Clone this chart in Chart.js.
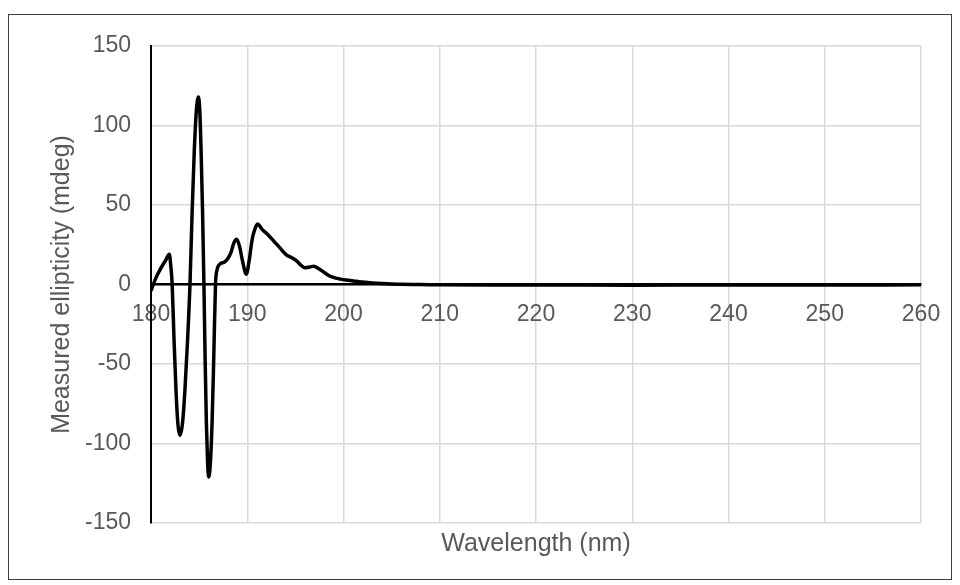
<!DOCTYPE html>
<html>
<head>
<meta charset="utf-8">
<script src="https://cdn.jsdelivr.net/npm/chart.js@4/dist/chart.umd.min.js"></script>
<style>
  html, body { margin: 0; padding: 0; background: #ffffff; }
  #wrap { position: relative; width: 960px; height: 585px; }
  #frame { position: absolute; left: 8px; top: 14px; width: 944px; height: 566px;
           box-sizing: border-box; border: 1px solid #3c3c3c; pointer-events: none; }
  canvas { position: absolute; left: 0; top: 0; }
</style>
</head>
<body>
<div id="wrap">
  <canvas id="cd" width="960" height="585"></canvas>
  <div id="frame"></div>
</div>
<script>
// CD spectrum: wavelength (nm) and measured ellipticity (mdeg)
const wavelength = [
  180, 180.5, 181, 181.5, 181.9, 182.05, 182.2, 182.4, 182.6, 182.8, 183.0,
  183.26, 183.52, 183.79, 184.05, 184.27, 184.49, 184.71, 184.93, 185.07,
  185.21, 185.36, 185.5, 185.62, 185.75, 185.88, 186.0, 186.17, 186.35,
  186.52, 186.7, 186.85, 187.2, 187.6, 187.95, 188.3, 188.6, 188.9, 189.2,
  189.5, 189.9, 190.2, 190.5, 190.8, 191.1, 191.5, 192.2, 192.8, 193.4, 194.1,
  194.6, 195.1, 195.6, 196.0, 196.5, 196.9, 197.4, 197.9, 198.5, 199.1, 199.7,
  200.3, 201, 202, 203, 204, 205, 206, 208, 210, 215, 220, 230, 240, 250, 260
];
const ellipticity = [
  -4, 4, 10, 15, 19, 12, 0, -36, -67, -88, -95,
  -88, -67, -36, 0, 45, 83, 109, 118, 109,
  83, 45, 0, -46, -86, -112, -121, -112, -86,
  -46, 0, 9, 13, 14, 16, 20, 26, 28.5, 24,
  15, 6.5, 15, 28, 35, 38, 35, 31, 27, 23, 18.5,
  17, 15, 12, 10.5, 11, 11.5, 10, 8, 5.5, 4.2, 3.4,
  2.8, 2.2, 1.6, 1.0, 0.6, 0.3, 0.1, 0, -0.2, -0.3, -0.3, -0.4, -0.3, -0.3, -0.2
];
const xTicks = [180, 190, 200, 210, 220, 230, 240, 250, 260];
const yTicks = [-150, -100, -50, 0, 50, 100, 150];
const xTitle = 'Wavelength (nm)';
const yTitle = 'Measured ellipticity (mdeg)';

const FONT = "'Liberation Sans', Arial, sans-serif";
const TEXT = '#595959';
const GRID = '#d9d9d9';

const points = wavelength.map((w, i) => ({ x: w, y: ellipticity[i] }));

new Chart(document.getElementById('cd'), {
  type: 'line',
  data: {
    datasets: [{
      data: points,
      borderColor: '#000000',
      borderWidth: 3.5,
      pointRadius: 0,
      fill: false,
      cubicInterpolationMode: 'monotone'
    }]
  },
  options: {
    responsive: false,
    animation: false,
    layout: { padding: { left: 0, top: 46, right: 39, bottom: 0 } },
    plugins: { legend: { display: false }, tooltip: { enabled: false } },
    scales: {
      x: {
        type: 'linear',
        position: { y: 0 },
        min: xTicks[0],
        max: xTicks[xTicks.length - 1],
        afterBuildTicks: (s) => { s.ticks = xTicks.map(v => ({ value: v })); },
        grid: { color: GRID, lineWidth: 1.5, drawTicks: false },
        border: { display: true, color: '#000000', width: 2.5 },
        ticks: { color: TEXT, font: { family: FONT, size: 23 }, padding: 16, maxRotation: 0 }
      },
      xTitleAxis: {
        type: 'linear',
        position: 'bottom',
        min: xTicks[0],
        max: xTicks[xTicks.length - 1],
        grid: { display: false },
        border: { display: false },
        ticks: { display: false },
        title: { display: true, text: xTitle, color: TEXT,
                 font: { family: FONT, size: 25 }, padding: { top: 0, bottom: 25.5 } },
        afterFit: (s) => { s.height = 62; }
      },
      y: {
        type: 'linear',
        min: yTicks[0],
        max: yTicks[yTicks.length - 1],
        afterBuildTicks: (s) => { s.ticks = yTicks.map(v => ({ value: v })); },
        grid: { color: GRID, lineWidth: 1.5, drawTicks: false },
        border: { display: true, color: '#000000', width: 2 },
        ticks: { color: TEXT, font: { family: FONT, size: 23 }, padding: 20 },
        title: { display: true, text: yTitle, color: TEXT,
                 font: { family: FONT, size: 25 }, padding: { top: 47, bottom: 0 } },
        afterFit: (s) => { s.width = 151; }
      }
    }
  }
});
</script>
</body>
</html>
